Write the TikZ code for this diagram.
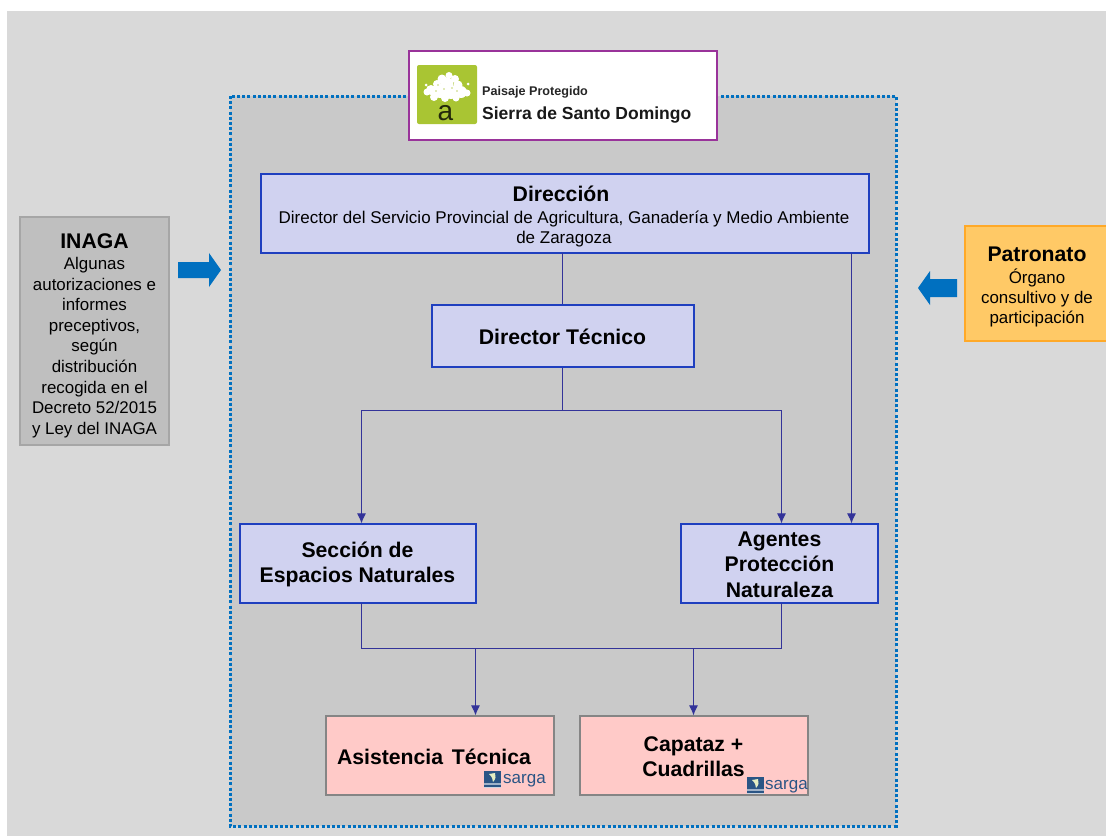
\documentclass[tikz,border=0pt]{standalone}
\usepackage{fontspec}
\setmainfont{Liberation Sans}
\usetikzlibrary{arrows.meta}
\definecolor{bgout}{HTML}{D9D9D9}
\definecolor{panel}{HTML}{C9C9C9}
\definecolor{dotblue}{HTML}{0070C0}
\definecolor{boxblue}{HTML}{D0D2F0}
\definecolor{edgeblue}{HTML}{1F3FBF}
\definecolor{linkblue}{HTML}{333399}
\definecolor{pinkbox}{HTML}{FFCAC8}
\definecolor{greybox}{HTML}{BFBFBF}
\definecolor{orangebox}{HTML}{FFC966}
\definecolor{orangeedge}{HTML}{FFA928}
\definecolor{logogreen}{HTML}{A9C533}
\definecolor{logopurple}{HTML}{99339A}
\definecolor{sargablue}{HTML}{2A5585}
\tikzset{
  orgbox/.style={draw=edgeblue,fill=boxblue,line width=1.2pt,align=center,inner sep=0pt,font=\fontsize{21.2}{25.5}\selectfont\bfseries,text=black},
  pinkstyle/.style={draw=black!48,fill=pinkbox,line width=1.2pt,inner sep=0pt,minimum width=228pt,minimum height=79pt},
  titletext/.style={inner sep=0pt,align=center,text=black,font=\fontsize{21.2}{25.5}\selectfont\bfseries},
  sidebox/.style={inner sep=0pt,line width=1.2pt},
  sidetext/.style={align=center,inner sep=0pt,text=black,font=\fontsize{16.9}{20.6}\selectfont},
  link/.style={draw=linkblue,line width=1pt},
  linkarrow/.style={link,-{Latex[length=10pt,width=9pt]}},
  blob/.style={fill=white,draw=none},
  sargatext/.style={inner sep=0pt,text=sargablue,font=\fontsize{17}{19}\selectfont}
}
\newcommand{\sargalogo}[2]{%
  \fill[sargablue] (#1,#2) rectangle ++(17,17);
  \fill[white!55!sargablue] (#1,#2+12) rectangle ++(17,2);
  \fill[white!75!sargablue] (#1,#2+15.5) rectangle ++(17,1.5);
  \fill[white!70!logogreen] (#1+5,#2+3) .. controls (#1+8,#2+6) and (#1+9,#2+8) .. (#1+9,#2+11) .. controls (#1+12,#2+8) and (#1+12,#2+5) .. (#1+11,#2+2) -- cycle;
}
\begin{document}
\begin{tikzpicture}[x=1pt,y=-1pt]
\useasboundingbox (0,0) rectangle (1106,836);
\fill[white] (0,0) rectangle (1106,836);
\fill[bgout] (7,11) rectangle (1106,836);
\fill[panel] (230,96) rectangle (896,826);
\draw[dotblue,line width=3pt,dash pattern=on 3pt off 2.2pt] (230,96) rectangle (896,826);

% logo box
\node[draw=logopurple,fill=white,line width=1.5pt,minimum width=308pt,minimum height=89pt,inner sep=0pt] (logo) at (563,95.5) {};
\fill[logogreen,rounded corners=2pt] (417,65) rectangle (477,124);
\foreach \cx/\cy/\r in {449/75.5/3.5,442/79/4.5,455/79/4,437/84/4,447/84/6.5,458/85/4.5,431/90/5,440/91/7,451/92/7,461/92/6,467/93/3.5,427/92/3.5,434/97/4,445/98/4,456/98/3.5,468/84/1.5,426/85/1.5}{
  \fill[blob] (\cx,\cy) circle (\r);
}
\foreach \cx/\cy in {438/85,444/89,452/88,457/91,436/91}{
  \fill[logogreen!70!white] (\cx,\cy) circle (0.9);
}
\node[inner sep=0pt,text=black!80!logogreen,font=\fontsize{28}{28}\selectfont] (logoa) at (445.5,113) {a};
\node[anchor=west,inner sep=0pt,text=black!85,font=\fontsize{12.6}{14}\selectfont\bfseries] (logot1) at (482,92) {Paisaje Protegido};
\node[anchor=west,inner sep=0pt,text=black!90,font=\fontsize{17.5}{19}\selectfont\bfseries] (logot2) at (482,115) {Sierra de Santo Domingo};

% main boxes
\node[orgbox,minimum width=608pt,minimum height=79pt] (dir) at (565,213.5) {};
\node[titletext] (dirt) at (561,194) {Dirección};
\node[inner sep=0pt,align=center,font=\fontsize{17}{20.6}\selectfont] (dirs) at (564,229) {Director del Servicio Provincial de Agricultura, Ganadería y Medio Ambiente\\de Zaragoza};
\node[orgbox,minimum width=262pt,minimum height=62pt] (tec) at (563,336) {};
\node[titletext] (tect) at (562.5,337) {Director Técnico};
\node[orgbox,minimum width=236pt,minimum height=79pt] (sec) at (358,563.5) {};
\node[titletext] (sect) at (357.5,564.5) {Sección de\\Espacios Naturales};
\node[orgbox,minimum width=197pt,minimum height=79pt] (age) at (779.5,563.5) {};
\node[titletext] (aget) at (779.5,564.5) {Agentes\\Protección\\Naturaleza};
\node[pinkstyle] (asi) at (440,755.5) {};
\node[titletext] (asit) at (434,757) {Asistencia\hspace{3pt} Técnica};
\node[pinkstyle] (cap) at (694,755.5) {};
\node[titletext] (capt) at (693.5,756.5) {Capataz +\\Cuadrillas};

% sarga logos
\sargalogo{484}{771}
\node[sargatext,anchor=west] (s1) at (503,780.5) {sarga};
\sargalogo{747}{777}
\node[sargatext,anchor=west] (s2) at (765,786.5) {sarga};

% side boxes
\node[sidebox,draw=black!35,fill=greybox,minimum width=149pt,minimum height=228pt] (ina) at (94.5,331) {};
\node[titletext] (inat) at (94.5,241) {INAGA};
\node[sidetext,anchor=north] (inas) at (94.5,257) {Algunas\\autorizaciones e\\informes\\preceptivos,\\según\\distribución\\recogida en el\\Decreto 52/2015\\y Ley del INAGA};
\node[sidebox,draw=orangeedge,fill=orangebox,minimum width=150pt,minimum height=115pt] (pat) at (1040,283.5) {};
\node[titletext] (patt) at (1037,254) {Patronato};
\node[sidetext,anchor=north,font=\fontsize{16.9}{20}\selectfont] (pats) at (1037,269) {Órgano\\consultivo y de\\participación};

% block arrows
\fill[dotblue] (178,262) -- (209,262) -- (209,253) -- (221,270) -- (209,287) -- (209,278) -- (178,278) -- cycle;
\fill[dotblue] (957,279) -- (930,279) -- (930,271) -- (918,288) -- (930,305) -- (930,297) -- (957,297) -- cycle;

% connectors
\coordinate (d1) at (562.5,253);
\coordinate (j1) at (562.5,410.5);
\coordinate (j2) at (475.5,648.5);
\coordinate (j3) at (693.5,648.5);
\coordinate (sb) at (361.5,603);
\coordinate (ab) at (781.5,603);
\coordinate (dr) at (851.5,253);
\draw[link] (d1) -- (d1 |- tec.north);
\draw[link] (d1 |- tec.south) -- (j1);
\draw[linkarrow] (j1) -| (sb |- sec.north);
\draw[linkarrow] (j1) -| (ab |- age.north);
\draw[linkarrow] (dr) -- (dr |- age.north);
\draw[link] (sb) |- (ab |- j2) -- (ab);
\draw[linkarrow] (j2) -- (j2 |- asi.north);
\draw[linkarrow] (j3) -- (j3 |- cap.north);
\end{tikzpicture}
\end{document}
